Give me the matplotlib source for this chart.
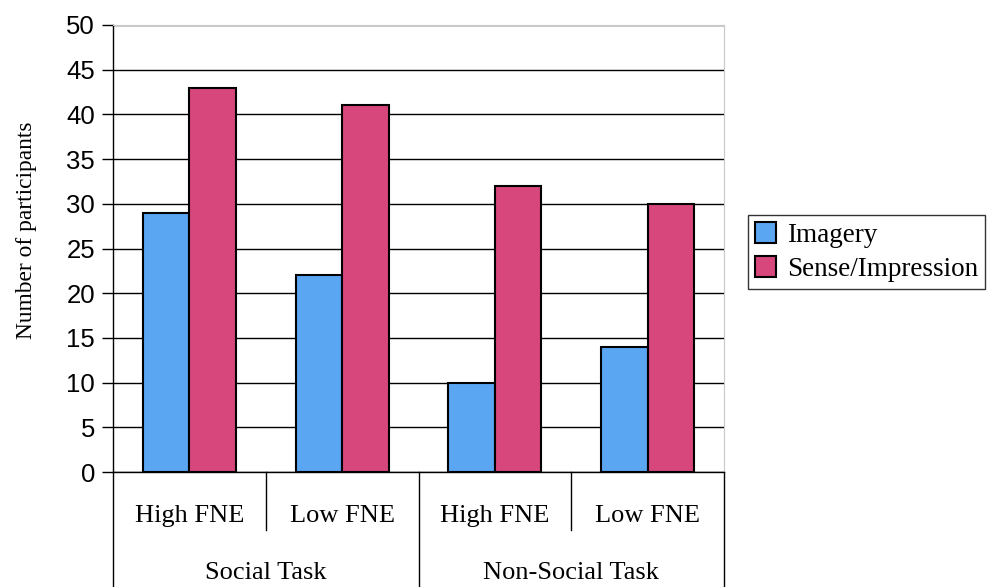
import numpy as np
import matplotlib
matplotlib.use("Agg")
import matplotlib.pyplot as plt
from matplotlib.transforms import blended_transform_factory

# data
conditions = ["High FNE", "Low FNE", "High FNE", "Low FNE"]
tasks = ["Social Task", "Non-Social Task"]
imagery = [29, 22, 10, 14]
sense = [43, 41, 32, 30]

blue = "#5aa6f2"
pink = "#d8477b"
serif = ["Liberation Serif", "DejaVu Serif"]
sans = ["Liberation Sans", "DejaVu Sans"]

fig = plt.figure(figsize=(9.97, 5.87), dpi=100)
ax = fig.add_axes([113 / 997, 1 - 472 / 587, 611 / 997, 447 / 587])

x = np.arange(len(conditions))
w = 0.305
b1 = ax.bar(x - w / 2, imagery, w, color=blue, edgecolor="black", linewidth=1.5,
            label="Imagery", zorder=3)
b2 = ax.bar(x + w / 2, sense, w, color=pink, edgecolor="black", linewidth=1.5,
            label="Sense/Impression", zorder=3)

ax.set_xlim(-0.5, len(conditions) - 0.5)
ax.set_ylim(0, 50)
ax.set_yticks(range(0, 51, 5))
ax.set_yticklabels([str(v) for v in range(0, 51, 5)], family=sans, fontsize=18.5)
ax.tick_params(axis="y", length=8, width=1, pad=5)
ax.set_xticks([])
ax.yaxis.grid(True, color="black", linewidth=1, zorder=0)
for s in ["top", "right"]:
    ax.spines[s].set_color("#c8c8c8")
ax.spines["left"].set_linewidth(1)
ax.spines["bottom"].set_linewidth(1)

ax.set_ylabel("Number of participants", family=serif, fontsize=16.8)
ax.yaxis.set_label_coords(-76 / 611, (472 - 230) / 447)

# two-level category axis below the plot
tr = blended_transform_factory(ax.transData, ax.transAxes)
for i, b in enumerate(np.arange(-0.5, len(conditions), 1.0)):
    y_end = -115 / 447 if i % 2 == 0 else -58 / 447
    ax.plot([b, b], [0, y_end], color="black", linewidth=1, transform=tr, clip_on=False)
for i, lab in enumerate(conditions):
    ax.text(x[i], -44 / 447, lab, transform=tr, ha="center", va="center",
            family=serif, fontsize=19)
for j, lab in enumerate(tasks):
    ax.text(2 * j + 0.5, -101 / 447, lab, transform=tr, ha="center", va="center",
            family=serif, fontsize=19)

leg = fig.legend(handles=[b1, b2], loc="center left", bbox_to_anchor=(748 / 997, 1 - 252 / 587),
                 prop={"family": serif, "size": 19.5}, frameon=True, fancybox=False,
                 handlelength=0.8, handleheight=0.8, handletextpad=0.4,
                 borderpad=0.25, labelspacing=0.3, borderaxespad=0)
leg.get_frame().set_edgecolor("black")
leg.get_frame().set_linewidth(1)

fig.savefig("out.png", dpi=100)
